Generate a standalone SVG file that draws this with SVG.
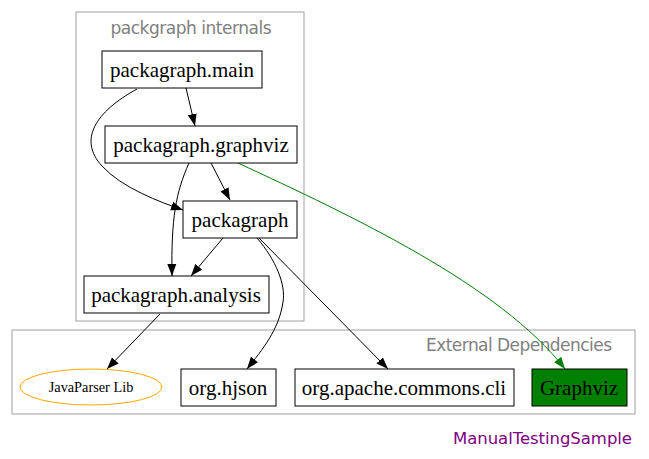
<svg xmlns="http://www.w3.org/2000/svg" width="649" height="459" viewBox="0 0 649 459">
<style>
.cl{fill:none;stroke:#a0a0a0;stroke-width:1}
.ct{font-family:"DejaVu Sans","Liberation Sans",sans-serif;font-size:17px;fill:#808080}
.nd{fill:#fff;stroke:#000;stroke-width:1}
.nt{font-family:"Liberation Serif","Times New Roman",serif;font-size:21px;fill:#000;text-anchor:middle}
.e{fill:none;stroke:#000;stroke-width:1}
.g{fill:none;stroke:#008000;stroke-width:1}
</style>
<defs>
<marker id="ab" markerWidth="12" markerHeight="10" refX="12" refY="5" orient="auto" markerUnits="userSpaceOnUse"><path d="M0,0.5 L12,5 L0,9.5 Z" fill="#000"/></marker>
<marker id="ag" markerWidth="12" markerHeight="10" refX="12" refY="5" orient="auto" markerUnits="userSpaceOnUse"><path d="M0,0.5 L12,5 L0,9.5 Z" fill="#008000"/></marker>
</defs>
<rect width="649" height="459" fill="#fff"/>
<g id="cluster_internals">
<rect class="cl" x="76" y="12" width="228" height="309"/>
<text class="ct" x="191" y="34" text-anchor="middle" textLength="161">packgraph internals</text>
</g>
<g id="cluster_external">
<rect class="cl" x="12" y="330" width="623" height="84"/>
<text class="ct" x="612" y="351" text-anchor="end" textLength="186">External Dependencies</text>
</g>
<g id="edges">
<path class="e" d="M186,88 L195,126" marker-end="url(#ab)"/>
<path class="e" d="M137,89 C95,112 78,140 102,166 C122,188 160,202 183,210" marker-end="url(#ab)"/>
<path class="e" d="M211,163 L230,200" marker-end="url(#ab)"/>
<path class="e" d="M189,163 C176,192 171,218 172,276" marker-end="url(#ab)"/>
<path class="e" d="M223,238 L191,276" marker-end="url(#ab)"/>
<path class="e" d="M257,238 C276,260 286,285 283,302 C279,330 262,350 247,369" marker-end="url(#ab)"/>
<path class="e" d="M259,238 L388,369" marker-end="url(#ab)"/>
<path class="e" d="M160,314 L107,369" marker-end="url(#ab)"/>
<path class="g" d="M238,163 C350,215 500,285 565,369" marker-end="url(#ag)"/>
</g>
<g id="node_main">
<rect class="nd" x="102" y="51" width="160" height="37"/>
<text class="nt" x="182" y="77">packagraph.main</text>
</g>
<g id="node_graphviz">
<rect class="nd" x="105" y="126" width="192" height="37"/>
<text class="nt" x="201" y="152">packagraph.graphviz</text>
</g>
<g id="node_packagraph">
<rect class="nd" x="183" y="201" width="114" height="37"/>
<text class="nt" x="240" y="227">packagraph</text>
</g>
<g id="node_analysis">
<rect class="nd" x="84" y="276" width="185" height="37"/>
<text class="nt" x="176" y="302">packagraph.analysis</text>
</g>
<g id="node_javaparser">
<ellipse cx="91" cy="387" rx="71" ry="18" fill="#fff" stroke="#ffa500"/>
<text x="91" y="392" text-anchor="middle" font-family="Liberation Serif,serif" font-size="14.3">JavaParser Lib</text>
</g>
<g id="node_hjson">
<rect class="nd" x="181" y="369" width="95" height="37"/>
<text class="nt" x="228" y="395">org.hjson</text>
</g>
<g id="node_cli">
<rect class="nd" x="295" y="369" width="219" height="37"/>
<text class="nt" x="404" y="395">org.apache.commons.cli</text>
</g>
<g id="node_graphviz_ext">
<rect x="532" y="369" width="95" height="37" fill="#008000" stroke="#000"/>
<text class="nt" x="579" y="395">Graphviz</text>
</g>
<text x="632" y="444" text-anchor="end" font-family="DejaVu Sans,Liberation Sans,sans-serif" font-size="16.5" fill="#800080" textLength="179">ManualTestingSample</text>
</svg>
